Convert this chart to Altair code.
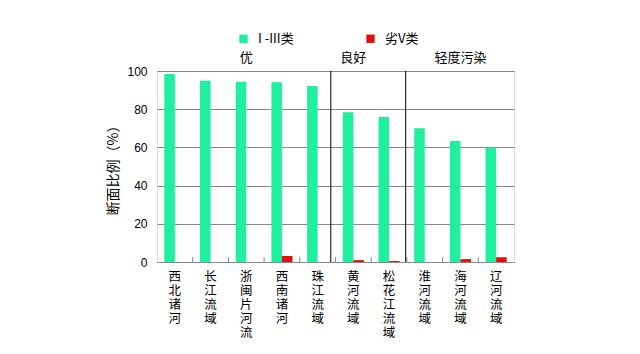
import altair as alt
import pandas as pd

categories = ["西北诸河", "长江流域", "浙闽片河流", "西南诸河", "珠江流域",
              "黄河流域", "松花江流域", "淮河流域", "海河流域", "辽河流域"]
good_vals = [98.4, 94.9, 94.4, 94.1, 92.1, 78.4, 75.9, 70.0, 63.3, 60.0]
bad_vals = [0.0, 0.0, 0.0, 3.1, 0.0, 1.0, 0.5, 0.0, 1.5, 2.5]
series = ["I -III类", "劣V类"]
colors = ["#1EF0A0", "#E01010"]
group_labels = ["优", "良好", "轻度污染"]
group_anchor = ["浙闽片河流", "黄河流域", "海河流域"]
group_band = [0.373, 0.966, 0.571]
separators = ["珠江流域", "松花江流域"]
sep_band = [0.868, 0.966]

rows = []
for c, g, b in zip(categories, good_vals, bad_vals):
    rows.append({"cat": c, "series": series[0], "value": g})
    rows.append({"cat": c, "series": series[1], "value": b})
df = pd.DataFrame(rows)

FONT = "Noto Sans CJK SC"
W, H = 357, 191
PI = 0.41
xscale = alt.Scale(domain=categories, paddingInner=PI, paddingOuter=PI / 2)
xflat = alt.Scale(domain=categories, paddingInner=0, paddingOuter=0)

bars = alt.Chart(df).mark_bar().encode(
    x=alt.X("cat:N", scale=xscale, sort=categories,
            axis=alt.Axis(title=None, labelAngle=0, labelExpr="split(datum.label, '')",
                          labelLineHeight=14, labelFontSize=12.5, labelPadding=8,
                          labelBaseline="top", ticks=False, domain=False,
                          labelColor="#000", labelFont=FONT)),
    xOffset=alt.XOffset("series:N", sort=series),
    y=alt.Y("value:Q", scale=alt.Scale(domain=[0, 100]),
            axis=alt.Axis(title="断面比例（%）", values=[0, 20, 40, 60, 80, 100],
                          ticks=False, domain=False, gridColor="#888", gridOpacity=1,
                          labelFontSize=12, labelColor="#000", labelPadding=10,
                          titleFontSize=14, titleFontWeight="normal", titleColor="#000",
                          titlePadding=6, labelFont="Liberation Sans", titleFont=FONT)),
    color=alt.Color("series:N", scale=alt.Scale(domain=series, range=colors),
                    legend=alt.Legend(title=None, orient="none", legendX=80, legendY=-39,
                                      direction="horizontal", symbolType="square",
                                      symbolSize=70, symbolStrokeWidth=0,
                                      labelFontSize=13, labelFont=FONT, labelColor="#000",
                                      columnPadding=70, labelOffset=8)),
)

tick_df = pd.DataFrame({"cat": categories[1:]})
ticks = alt.Chart(tick_df).mark_rule(color="#888").encode(
    x=alt.X("cat:N", scale=xflat, sort=categories, bandPosition=0, axis=None),
    y=alt.value(H), y2=alt.value(H - 5),
)

layers = [bars, ticks]
for s, bp in zip(separators, sep_band):
    sdf = pd.DataFrame({"cat": [s]})
    layers.append(alt.Chart(sdf).mark_rule(color="#000").encode(
        x=alt.X("cat:N", scale=xflat, sort=categories, bandPosition=bp, axis=None),
        y=alt.value(0), y2=alt.value(H),
    ))

for lab, anc, bp in zip(group_labels, group_anchor, group_band):
    tdf = pd.DataFrame({"cat": [anc], "label": [lab]})
    layers.append(alt.Chart(tdf).mark_text(fontSize=13, font=FONT, color="#000",
                                           baseline="middle").encode(
        x=alt.X("cat:N", scale=xflat, sort=categories, bandPosition=bp, axis=None),
        y=alt.value(-13),
        text="label:N",
    ))

chart = alt.layer(*layers).resolve_scale(x="independent").properties(
    width=W, height=H,
    autosize=alt.AutoSizeParams(type="none"),
    padding={"left": 157, "top": 71, "right": 126, "bottom": 92},
).configure_view(stroke="#888", strokeWidth=1).configure(background="white")

chart.save("out.html", embed_options={"renderer": "svg", "actions": False})
